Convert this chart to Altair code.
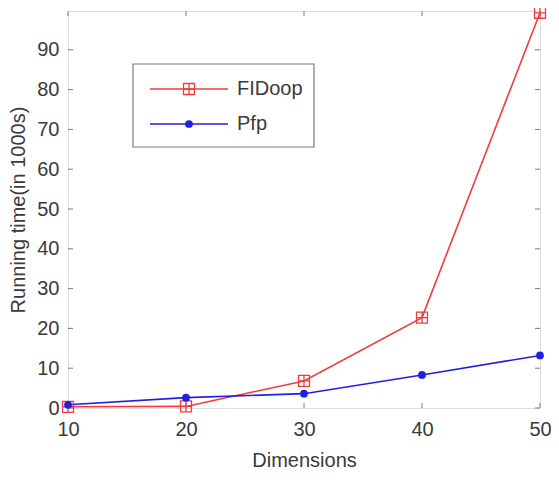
import altair as alt
import pandas as pd

dims = [10, 20, 30, 40, 50]
fidoop = [0.3, 0.4, 6.8, 22.7, 99.3]
pfp = [0.8, 2.6, 3.6, 8.3, 13.2]
series = ["FIDoop", "Pfp"]
colors = ["#f03c3c", "#2020e0"]
y_ticks = [0, 10, 20, 30, 40, 50, 60, 70, 80, 90]
x_ticks = dims

FONT = "Liberation Sans"
TXT = "#3a3a3a"
AX = "#7a7a7a"
W, H = 472, 397

df = pd.DataFrame({
    "dim": dims * 2,
    "time": fidoop + pfp,
    "series": [series[0]] * len(dims) + [series[1]] * len(dims),
})

xs = alt.Scale(domain=[10, 50], nice=False, zero=False)
ys = alt.Scale(domain=[0, 99.75], nice=False)
color = alt.Color("series:N", scale=alt.Scale(domain=series, range=colors), legend=None)

sq_plus = "M-1,-1H1V1H-1Z M0,-1V1 M-1,0H1"

lines = alt.Chart(df).mark_line(strokeWidth=1.6).encode(
    x=alt.X("dim:Q", scale=xs, axis=alt.Axis(
        values=x_ticks, title="Dimensions", ticks=False, domain=False, grid=False,
        labelFlush=False, labelOverlap=False,
        labelFontSize=20, labelFont=FONT, labelColor=TXT, labelPadding=11,
        titleFontSize=20, titleFont=FONT, titleColor=TXT, titleFontWeight="normal",
        titlePadding=11)),
    y=alt.Y("time:Q", scale=ys, axis=alt.Axis(
        values=y_ticks, title="Running time(in 1000s)", ticks=False, domain=False, grid=False,
        labelFlush=False, labelOverlap=False,
        labelFontSize=20, labelFont=FONT, labelColor=TXT, labelPadding=9,
        titleFontSize=20, titleFont=FONT, titleColor=TXT, titleFontWeight="normal",
        titlePadding=8)),
    color=color,
    order="dim:Q",
)

red_pts = alt.Chart(df).transform_filter(alt.datum.series == series[0]).mark_point(
    shape=sq_plus, filled=False, size=120, strokeWidth=1.3, color=colors[0], opacity=1
).encode(x=alt.X("dim:Q", scale=xs), y=alt.Y("time:Q", scale=ys))

blue_pts = alt.Chart(df).transform_filter(alt.datum.series == series[1]).mark_point(
    shape="circle", filled=True, size=60, color=colors[1], opacity=1
).encode(x=alt.X("dim:Q", scale=xs), y=alt.Y("time:Q", scale=ys))

ytd = pd.DataFrame({"v": y_ticks})
xtd = pd.DataFrame({"v": x_ticks})
tick_style = dict(color=AX, strokeWidth=1)
yt_left = alt.Chart(ytd).mark_rule(**tick_style).encode(
    y=alt.Y("v:Q", scale=ys), x=alt.value(0), x2=alt.value(5))
yt_right = alt.Chart(ytd).mark_rule(**tick_style).encode(
    y=alt.Y("v:Q", scale=ys), x=alt.value(W - 5), x2=alt.value(W))
xt_bot = alt.Chart(xtd).mark_rule(**tick_style).encode(
    x=alt.X("v:Q", scale=xs), y=alt.value(H - 5), y2=alt.value(H))
xt_top = alt.Chart(xtd).mark_rule(**tick_style).encode(
    x=alt.X("v:Q", scale=xs), y=alt.value(0), y2=alt.value(5))

leg = pd.DataFrame({"series": series})
legend_box = alt.Chart(leg).transform_filter(alt.datum.series == series[0]).mark_rect(
    fill="white", stroke=AX, strokeWidth=1.2
).encode(x=alt.value(65), x2=alt.value(246), y=alt.value(53), y2=alt.value(136))

legend_layers = [legend_box]
for i, s in enumerate(series):
    yy = 78 + 35 * i
    base = alt.Chart(leg).transform_filter(alt.datum.series == s)
    legend_layers.append(base.mark_rule(strokeWidth=1.6, color=colors[i]).encode(
        x=alt.value(82), x2=alt.value(160), y=alt.value(yy)))
    if i == 0:
        legend_layers.append(base.mark_point(shape=sq_plus, filled=False, size=120,
                                             strokeWidth=1.3, color=colors[i], opacity=1).encode(
            x=alt.value(121), y=alt.value(yy)))
    else:
        legend_layers.append(base.mark_point(shape="circle", filled=True, size=60,
                                             color=colors[i], opacity=1).encode(
            x=alt.value(121), y=alt.value(yy)))
    legend_layers.append(base.mark_text(align="left", baseline="middle", fontSize=20,
                                        font=FONT, color=TXT).encode(
        x=alt.value(169), y=alt.value(yy), text="series:N"))

chart = alt.layer(
    yt_left, yt_right, xt_bot, xt_top, lines, red_pts, blue_pts, *legend_layers
).properties(
    width=W, height=H,
    autosize=alt.AutoSizeParams(type="none"),
    padding={"left": 60, "top": 3, "right": 11, "bottom": 64},
).configure_view(stroke=AX, strokeWidth=1.2).configure(background="white")

chart.save("out.html", embed_options={"renderer": "svg", "actions": False})
